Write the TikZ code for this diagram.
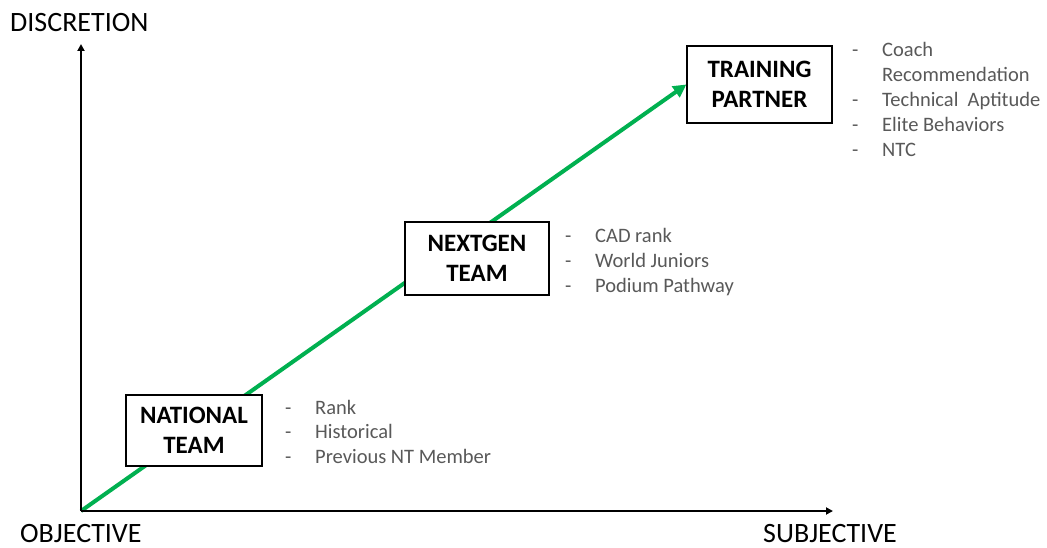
\documentclass[tikz,border=0pt]{standalone}
\usepackage{fontspec}
\setmainfont{Carlito}
\usetikzlibrary{arrows.meta}
\definecolor{txtgray}{RGB}{89,89,89}
\definecolor{officegreen}{RGB}{0,176,80}
\pgfdeclarelayer{bg}
\pgfsetlayers{bg,main}
\tikzset{
  titlebox/.style={draw=black, line width=1.3pt, fill=white, align=center,
    font=\fontsize{25}{30}\selectfont\bfseries, inner sep=0pt},
  axislabel/.style={anchor=base west, font=\fontsize{28}{34}\selectfont, inner sep=0pt, text depth=0pt, text=black},
  item/.style={anchor=base west, font=\fontsize{20.5}{25}\selectfont, inner sep=0pt, text=txtgray},
  axisline/.style={line width=1.8pt, -{Triangle[length=7pt,width=7pt]}},
  growline/.style={line width=4pt, draw=officegreen, -{Triangle[length=13pt,width=13pt]}}
}
\begin{document}
\begin{tikzpicture}[x=1pt,y=-1pt]
\useasboundingbox (0,0) rectangle (1047,548);
\begin{pgfonlayer}{bg}
\fill[white] (0,0) rectangle (1047,548);
\end{pgfonlayer}

\coordinate (O) at (81,511);
\coordinate (ytip) at (81,44);
\coordinate (xtip) at (833,511);

% axis labels
\node[axislabel] (disc) at (10,32) {DISCRETION};
\node[axislabel] (obj) at (20,542) {OBJECTIVE};
\node[axislabel] (subj) at (763,542) {SUBJECTIVE};

% boxes
\node[titlebox, minimum width=136pt, minimum height=71pt] (nt) at (194,430.5) {NATIONAL\\TEAM};
\node[titlebox, minimum width=144pt, minimum height=73pt] (ng) at (477,258.5) {NEXTGEN\\TEAM};
\node[titlebox, minimum width=145pt, minimum height=77pt] (tp) at (759.5,84.5) {TRAINING\\PARTNER};

% green arrow
\begin{pgfonlayer}{bg}
\draw[growline] (O) -- (tp.west);
\end{pgfonlayer}

% axes
\draw[axisline] (O) -- (ytip);
\draw[axisline] (O) -- (xtip);

% national team list
\node[item] (nd1) at (285,414) {-};
\node[item] (nt1) at (315,414) {Rank};
\node[item] (nd2) at (285,438) {-};
\node[item] (nt2) at (315,438) {Historical};
\node[item] (nd3) at (285,463) {-};
\node[item] (nt3) at (315,463) {Previous NT Member};

% nextgen list
\node[item] (gd1) at (565,243) {-};
\node[item] (gt1) at (595,243) {CAD rank};
\node[item] (gd2) at (565,267) {-};
\node[item] (gt2) at (595,267) {World Juniors};
\node[item] (gd3) at (565,292) {-};
\node[item] (gt3) at (595,292) {Podium Pathway};

% training partner list
\node[item] (td1) at (852,57) {-};
\node[item] (tt1) at (882,57) {Coach};
\node[item] (tt1b) at (882,82) {Recommendation};
\node[item] (td2) at (852,107) {-};
\node[item] (tt2) at (882,107) {Technical\ \ Aptitude};
\node[item] (td3) at (852,132) {-};
\node[item] (tt3) at (882,132) {Elite Behaviors};
\node[item] (td4) at (852,157) {-};
\node[item] (tt4) at (882,157) {NTC};
\end{tikzpicture}
\end{document}
